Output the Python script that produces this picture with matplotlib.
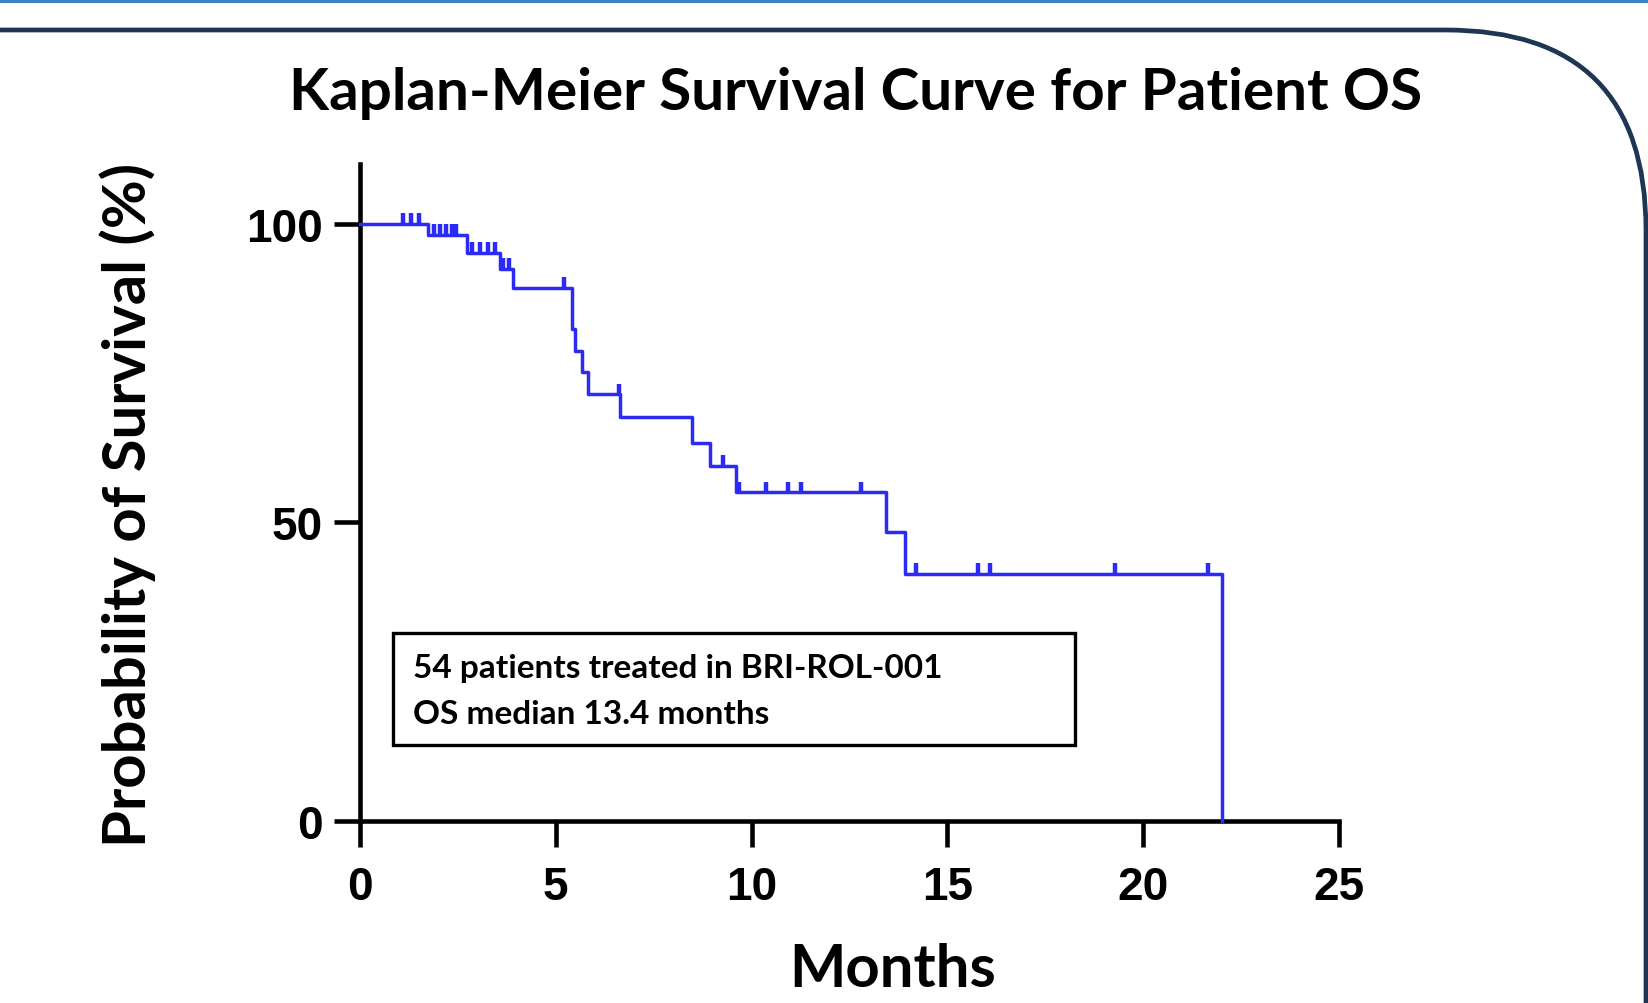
import numpy as np
import matplotlib.pyplot as plt
from matplotlib.patches import FancyBboxPatch, Rectangle

# --- Data (months, % surviving) ---
step_times = [0, 1.74, 2.73, 3.57, 3.90, 5.42, 5.49, 5.66, 5.83, 6.64,
              8.49, 8.94, 9.59, 13.42, 13.92, 22.0]
step_surv = [100, 98.1, 95.1, 92.4, 89.2, 82.4, 78.6, 75.2, 71.4, 67.6,
             63.2, 59.4, 55.0, 48.4, 41.3, 0]
censor_times = [1.1, 1.3, 1.5, 1.9, 2.05, 2.2, 2.35, 2.45, 2.85, 3.06,
                3.28, 3.45, 3.65, 3.8, 5.2, 6.62, 9.26, 9.68, 10.38,
                10.93, 11.27, 12.79, 14.2, 15.79, 16.1, 19.28, 21.66]
x_ticks = [0, 5, 10, 15, 20, 25]
y_ticks = [0, 50, 100]

title = "Kaplan-Meier Survival Curve for Patient OS"
note_lines = ["54 patients treated in BRI-ROL-001", "OS median 13.4 months"]

BLUE = '#2b2bf5'
NAVY = '#1e3654'
TXT_FONT = ['Lato', 'DejaVu Sans']
NUM_FONT = ['Liberation Sans', 'DejaVu Sans']

fig = plt.figure(figsize=(16.49, 10.04), dpi=100)

# --- Decorative frame ---
fig.patches.append(Rectangle((0, 10.0), 16.49, 0.05, transform=fig.dpi_scale_trans,
                             facecolor='#3d82c4', edgecolor='none'))
fig.patches.append(FancyBboxPatch((-3, -3), 16.46 + 3, 9.73 + 3,
                                  boxstyle="round,pad=0,rounding_size=2.0",
                                  transform=fig.dpi_scale_trans, facecolor='none',
                                  edgecolor=NAVY, linewidth=3.4))

# --- Axes ---
ax = fig.add_axes([0.2183, 0.1816, 0.5937, 0.654])
ax.set_xlim(0, 25)
ax.set_ylim(0, 110)

ax.step(step_times, step_surv, where='post', color=BLUE, linewidth=2.5, clip_on=False, zorder=3)

idx = np.searchsorted(step_times, censor_times, side='right') - 1
c_surv = np.array(step_surv)[idx]
ax.vlines(censor_times, c_surv, c_surv + 1.8, color=BLUE, linewidth=3.2, zorder=3)

for s in ['top', 'right']:
    ax.spines[s].set_visible(False)
for s in ['left', 'bottom']:
    ax.spines[s].set_linewidth(3.3)
ax.set_xticks(x_ticks)
ax.set_yticks(y_ticks)
ax.tick_params(direction='out', length=19, width=3.3, labelsize=33)
ax.tick_params(axis='x', pad=13)
ax.tick_params(axis='y', pad=8)
for lab in ax.get_xticklabels() + ax.get_yticklabels():
    lab.set_family(NUM_FONT)
    lab.set_fontweight('bold')

# --- Text ---
fig.text(0.519, 1 - 93 / 1004, title, ha='center', va='center', fontsize=42,
         fontweight='bold', family=TXT_FONT)
fig.text(128 / 1649, 1 - 505 / 1004, "Probability of Survival (%)", rotation=90,
         ha='center', va='center', fontsize=43, fontweight='bold', family=TXT_FONT)
fig.text(893 / 1649, 1 - 970 / 1004, "Months", ha='center', va='center', fontsize=43,
         fontweight='bold', family=TXT_FONT)

# note box
fig.patches.append(Rectangle((393 / 1649, 1 - 746 / 1004), (1075 - 393) / 1649, (746 - 634) / 1004,
                             transform=fig.transFigure, facecolor='white',
                             edgecolor='black', linewidth=2.4))
fig.text(413 / 1649, 1 - 669 / 1004, note_lines[0], ha='left', va='center', fontsize=24,
         fontweight='bold', family=TXT_FONT)
fig.text(413 / 1649, 1 - 714 / 1004, note_lines[1], ha='left', va='center', fontsize=24,
         fontweight='bold', family=TXT_FONT)

fig.savefig('out.png', dpi=100, facecolor='white')
